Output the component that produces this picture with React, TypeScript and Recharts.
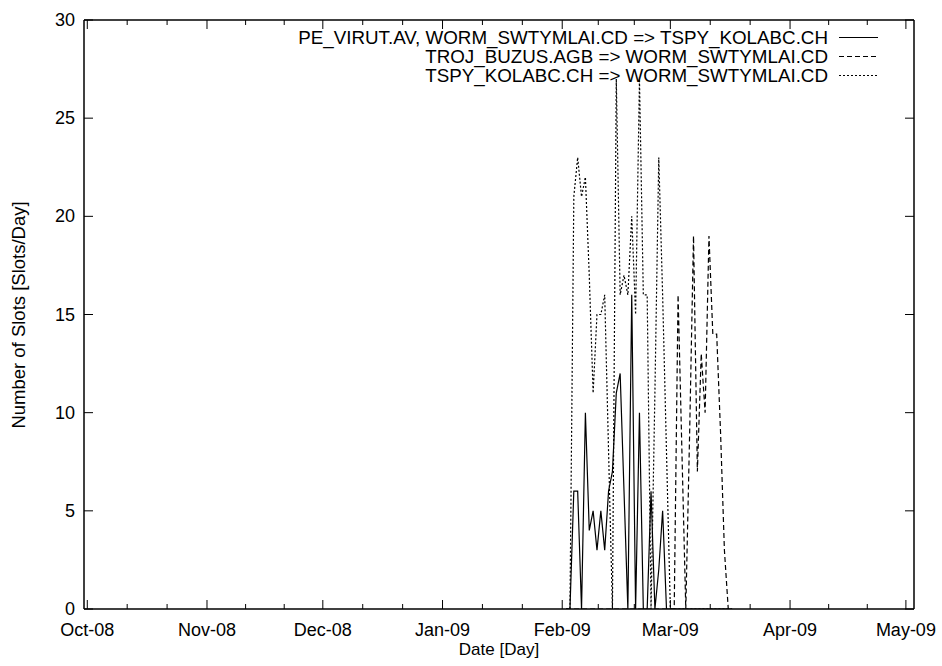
import React from 'react';
import { LineChart, Line, XAxis, YAxis } from 'recharts';

const FONT = '"Liberation Sans", Arial, Helvetica, sans-serif';

// Days on which the transitions were counted (2 Feb – 17 Mar 2009)
const dates = [
  '2009-02-02', '2009-02-03', '2009-02-04', '2009-02-05', '2009-02-06', '2009-02-07',
  '2009-02-08', '2009-02-09', '2009-02-10', '2009-02-11', '2009-02-12', '2009-02-13',
  '2009-02-14', '2009-02-15', '2009-02-16', '2009-02-17', '2009-02-18', '2009-02-19',
  '2009-02-20', '2009-02-21', '2009-02-22', '2009-02-23', '2009-02-24', '2009-02-25',
  '2009-02-26', '2009-02-27', '2009-02-28', '2009-03-01', '2009-03-02', '2009-03-03',
  '2009-03-04', '2009-03-05', '2009-03-06', '2009-03-07', '2009-03-08', '2009-03-09',
  '2009-03-10', '2009-03-11', '2009-03-12', '2009-03-13', '2009-03-14', '2009-03-15',
  '2009-03-16', '2009-03-17',
];

// PE_VIRUT.AV, WORM_SWTYMLAI.CD => TSPY_KOLABC.CH
const peVirut = [
  0, 0, 6, 6, 0, 10, 4, 5, 3, 5, 3, 6,
  7, 11, 12, 6, 0, 16, 0, 10, 0, 0, 6, 0,
  2, 5, 0, 0, 0, 0, 0, 0, 0, 0, 0, 0,
  0, 0, 0, 0, 0, 0, 0, 0,
];

// TROJ_BUZUS.AGB => WORM_SWTYMLAI.CD
const trojBuzus = [
  0, 0, 0, 0, 0, 0, 0, 0, 0, 0, 0, 0,
  0, 0, 0, 0, 0, 0, 0, 0, 0, 0, 0, 0,
  0, 0, 0, 0, 0, 16, 8, 0, 9, 19, 7, 13,
  10, 19, 14, 14, 9, 3, 0, 0,
];

// TSPY_KOLABC.CH => WORM_SWTYMLAI.CD
const tspyKolabc = [
  0, 0, 21, 23, 21, 22, 17, 11, 15, 15, 16, 8,
  0, 27, 16, 17, 16, 20, 15, 27, 16, 16, 0, 11,
  23, 16, 8, 0, 0, 0, 0, 0, 0, 0, 0, 0,
  0, 0, 0, 0, 0, 0, 0, 0,
];

const monthTicks = [
  '2008-10-01', '2008-11-01', '2008-12-01', '2009-01-01',
  '2009-02-01', '2009-03-01', '2009-04-01', '2009-05-01',
];
const monthLabels = ['Oct-08', 'Nov-08', 'Dec-08', 'Jan-09', 'Feb-09', 'Mar-09', 'Apr-09', 'May-09'];
const yTicks = [0, 5, 10, 15, 20, 25, 30];

const seriesNames = [
  'PE_VIRUT.AV, WORM_SWTYMLAI.CD => TSPY_KOLABC.CH',
  'TROJ_BUZUS.AGB => WORM_SWTYMLAI.CD',
  'TSPY_KOLABC.CH => WORM_SWTYMLAI.CD',
];
const seriesDash = ['', '5 3', '2 2'];

const ORIGIN = Date.UTC(2008, 9, 1);
const dayOf = (iso: string) => (Date.parse(iso + 'T00:00:00Z') - ORIGIN) / 86400000;

const data = dates.map((d, i) => ({
  day: dayOf(d),
  a: peVirut[i],
  b: trojBuzus[i],
  c: tspyKolabc[i],
}));

const majorDays = monthTicks.map(dayOf);
const minorDays: number[] = [];
for (let i = 0; i < majorDays.length - 1; i++) {
  const a = majorDays[i];
  const b = majorDays[i + 1];
  minorDays.push(a + (b - a) / 3, a + (2 * (b - a)) / 3);
}
const xTicks = [...majorDays, ...minorDays].sort((p, q) => p - q);
const labelFor = (v: number) => {
  const k = majorDays.findIndex((m) => Math.abs(m - v) < 1e-6);
  return k >= 0 ? monthLabels[k] : null;
};

const W = 942;
const H = 666;
// plot box: left 84, right 914, top 20, bottom 609 (axes take 1px each)
const M = { top: 19, right: 27, bottom: 56, left: 83 };
const X_DOMAIN: [number, number] = [-0.85, 214.1];
const MAJOR = 9;
const MINOR = 5;
const TICK_STROKE = 1;
const FS = 18;

const BottomTick = (p: any) => {
  const lbl = labelFor(p.payload.value);
  const len = lbl ? MAJOR : MINOR;
  return (
    <g>
      <line x1={p.x} x2={p.x} y1={p.y} y2={p.y - len} stroke="#000" strokeWidth={TICK_STROKE} />
      {lbl && (
        <text x={p.x} y={p.y + 27} textAnchor="middle" fontFamily={FONT} fontSize={FS} fill="#000">
          {lbl}
        </text>
      )}
    </g>
  );
};

const TopTick = (p: any) => {
  const len = labelFor(p.payload.value) ? MAJOR : MINOR;
  return <line x1={p.x} x2={p.x} y1={p.y} y2={p.y + len} stroke="#000" strokeWidth={TICK_STROKE} />;
};

const LeftTick = (p: any) => (
  <g>
    <line x1={p.x} x2={p.x + MAJOR} y1={p.y} y2={p.y} stroke="#000" strokeWidth={TICK_STROKE} />
    <text x={p.x - 9} y={p.y + 6} textAnchor="end" fontFamily={FONT} fontSize={FS} fill="#000">
      {p.payload.value}
    </text>
  </g>
);

const RightTick = (p: any) => (
  <line x1={p.x} x2={p.x - MAJOR} y1={p.y} y2={p.y} stroke="#000" strokeWidth={TICK_STROKE} />
);

const KeyBlock = () => (
  <div
    style={{
      position: 'absolute', top: 28, right: 53, fontFamily: FONT, fontSize: 18.8, color: '#000', lineHeight: '19px',
    }}
  >
    {seriesNames.map((name, i) => (
      <div key={name} style={{ display: 'flex', justifyContent: 'flex-end', alignItems: 'center' }}>
        <span style={{ whiteSpace: 'nowrap' }}>{name}</span>
        <svg width={50} height={19} style={{ marginLeft: 11 }}>
          <line x1={0} x2={39} y1={9.5} y2={9.5} stroke="#000" strokeWidth={1.2} strokeDasharray={seriesDash[i] || undefined} />
        </svg>
      </div>
    ))}
  </div>
);

const axisLine = { stroke: '#000', strokeWidth: 1.5 };

export default function App() {
  return (
    <div style={{ position: 'absolute', left: 0, top: 0, width: W, height: H, background: '#fff' }}>
      <LineChart width={W} height={H} data={data} margin={M}>
        <XAxis
          xAxisId="b"
          type="number"
          dataKey="day"
          domain={X_DOMAIN}
          allowDataOverflow
          ticks={xTicks}
          interval={0}
          tick={<BottomTick />}
          tickLine={false}
          tickSize={0}
          tickMargin={0}
          height={1}
          axisLine={axisLine}
        />
        <XAxis
          xAxisId="t"
          orientation="top"
          type="number"
          dataKey="day"
          domain={X_DOMAIN}
          allowDataOverflow
          ticks={xTicks}
          interval={0}
          tick={<TopTick />}
          tickLine={false}
          tickSize={0}
          tickMargin={0}
          height={1}
          axisLine={axisLine}
        />
        <YAxis
          yAxisId="l"
          type="number"
          domain={[0, 30]}
          allowDataOverflow
          ticks={yTicks}
          interval={0}
          tick={<LeftTick />}
          tickLine={false}
          tickSize={0}
          tickMargin={0}
          width={1}
          axisLine={axisLine}
        />
        <YAxis
          yAxisId="r"
          orientation="right"
          type="number"
          domain={[0, 30]}
          allowDataOverflow
          ticks={yTicks}
          interval={0}
          tick={<RightTick />}
          tickLine={false}
          tickSize={0}
          tickMargin={0}
          width={1}
          axisLine={axisLine}
        />
        <Line xAxisId="b" yAxisId="l" dataKey="a" name={seriesNames[0]} type="linear" stroke="#000" strokeWidth={1.2} dot={false} isAnimationActive={false} />
        <Line xAxisId="b" yAxisId="l" dataKey="b" name={seriesNames[1]} type="linear" stroke="#000" strokeWidth={1.2} strokeDasharray={seriesDash[1]} dot={false} isAnimationActive={false} />
        <Line xAxisId="b" yAxisId="l" dataKey="c" name={seriesNames[2]} type="linear" stroke="#000" strokeWidth={1.2} strokeDasharray={seriesDash[2]} dot={false} isAnimationActive={false} />
      </LineChart>
      <KeyBlock />
      <div
        style={{
          position: 'absolute', left: 0, width: W - M.right + M.left, top: 640, textAlign: 'center',
          fontFamily: FONT, fontSize: 17, color: '#000',
        }}
      >
        Date [Day]
      </div>
      <div style={{ position: 'absolute', left: 19, top: 315, width: 0, height: 0 }}>
        <div
          style={{
            position: 'absolute', left: 0, top: 0, transform: 'translate(-50%, -50%) rotate(-90deg)',
            whiteSpace: 'nowrap', fontFamily: FONT, fontSize: 18.5, color: '#000',
          }}
        >
          Number of Slots [Slots/Day]
        </div>
      </div>
    </div>
  );
}
